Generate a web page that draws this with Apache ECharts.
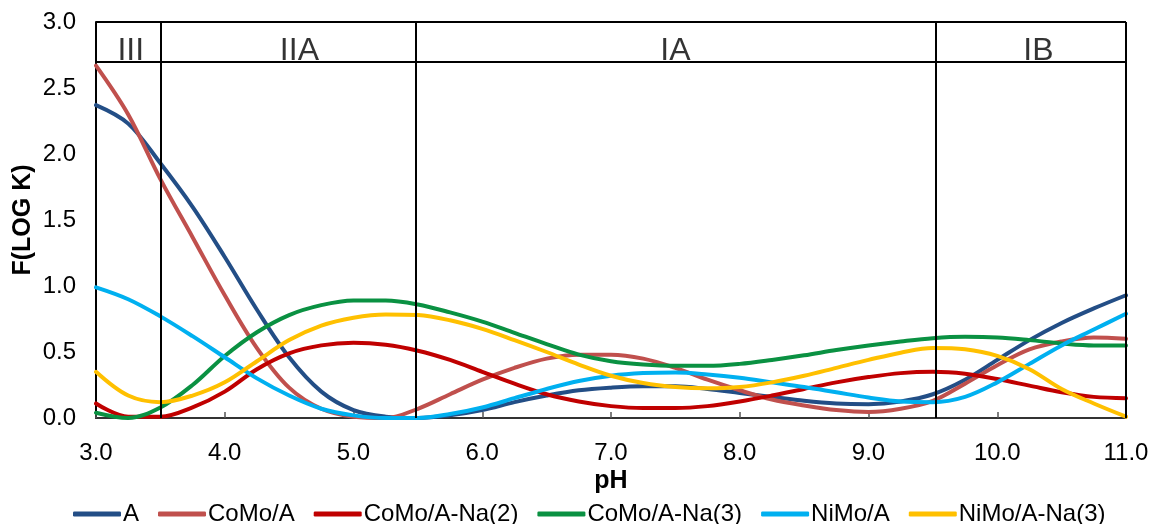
<!DOCTYPE html>
<html>
<head>
<meta charset="utf-8">
<script src="https://cdn.jsdelivr.net/npm/echarts@6/dist/echarts.min.js"></script>
<style>
html,body{margin:0;padding:0;background:#fff;}
#chart{width:1155px;height:524px;}
</style>
</head>
<body>
<div id="chart"></div>
<script>
// ---- data ----
var phValues = [3.0,3.25,3.5,3.75,4.0,4.25,4.5,4.75,5.0,5.25,5.5,5.75,6.0,6.25,6.5,6.75,7.0,7.25,7.5,7.75,8.0,8.25,8.5,8.75,9.0,9.25,9.5,9.75,10.0,10.25,10.5,10.75,11.0];

var seriesNames = ['A','CoMo/A','CoMo/A-Na(2)','CoMo/A-Na(3)','NiMo/A','NiMo/A-Na(3)'];

var valuesA =        [2.37,2.23,1.93,1.60,1.22,0.82,0.46,0.20,0.06,0.01,0.00,0.02,0.06,0.12,0.17,0.21,0.23,0.24,0.24,0.22,0.19,0.16,0.13,0.11,0.105,0.125,0.18,0.29,0.44,0.59,0.72,0.83,0.93];
var valuesCoMoA =    [2.67,2.30,1.81,1.37,0.93,0.53,0.23,0.07,0.01,0.00,0.07,0.18,0.29,0.38,0.45,0.48,0.48,0.45,0.38,0.29,0.21,0.14,0.095,0.06,0.045,0.07,0.13,0.26,0.40,0.52,0.58,0.61,0.60];
var valuesCoMoNa2 =  [0.11,0.01,0.01,0.08,0.20,0.37,0.49,0.55,0.57,0.555,0.51,0.44,0.35,0.26,0.18,0.125,0.09,0.075,0.075,0.09,0.125,0.17,0.22,0.27,0.31,0.34,0.35,0.335,0.295,0.245,0.195,0.16,0.15];
var valuesCoMoNa3 =  [0.04,0.00,0.08,0.25,0.47,0.65,0.78,0.855,0.89,0.89,0.86,0.80,0.73,0.645,0.56,0.48,0.43,0.405,0.395,0.395,0.41,0.44,0.475,0.515,0.55,0.58,0.605,0.615,0.61,0.59,0.565,0.55,0.55];
var valuesNiMoA =    [0.99,0.90,0.77,0.62,0.46,0.30,0.17,0.07,0.02,0.00,0.00,0.03,0.08,0.15,0.22,0.28,0.32,0.34,0.345,0.33,0.305,0.27,0.235,0.195,0.155,0.125,0.12,0.16,0.27,0.41,0.55,0.67,0.79];
var valuesNiMoNa3 =  [0.35,0.17,0.12,0.17,0.27,0.43,0.59,0.70,0.76,0.785,0.78,0.74,0.675,0.59,0.50,0.405,0.32,0.265,0.235,0.225,0.235,0.27,0.32,0.38,0.44,0.495,0.53,0.52,0.47,0.37,0.22,0.11,0.01];

var seriesColors = ['#234E86','#C0504D','#C00000','#0A9142','#00B0F0','#FFC000'];

var regionLabels = ['III','IIA','IA','IB'];
var regionLabelX = [3.27,4.58,7.5,10.32];
var regionBoundaries = [3.5,5.48,9.52,11.0];
var bandBottom = 2.7;
var yMin = 0, yMax = 3.0, yStep = 0.5;
var xMin = 3, xMax = 11, xStep = 1;

// ---- build chart ----
var allValues = [valuesA,valuesCoMoA,valuesCoMoNa2,valuesCoMoNa3,valuesNiMoA,valuesNiMoNa3];
var FONT = 'Liberation Sans, Arial, sans-serif';

var series = allValues.map(function (vals, i) {
  return {
    name: seriesNames[i],
    type: 'line',
    smooth: 0.35,
    showSymbol: false,
    symbol: 'none',
    lineStyle: { width: 4, color: seriesColors[i], cap: 'round' },
    itemStyle: { color: seriesColors[i] },
    data: phValues.map(function (x, j) { return [x, vals[j]]; }),
    z: 2
  };
});

var frameLines = [];
regionBoundaries.forEach(function (x) {
  frameLines.push([{ coord: [x, yMin] }, { coord: [x, yMax] }]);
});
frameLines.push([{ coord: [xMin, bandBottom] }, { coord: [xMax, bandBottom] }]);
frameLines.push([{ coord: [xMin, yMax] }, { coord: [xMax, yMax] }]);

series.push({
  name: 'frame',
  type: 'scatter',
  clip: false,
  silent: true,
  symbolSize: 0,
  data: regionLabels.map(function (t, i) { return { name: t, value: [regionLabelX[i], bandBottom] }; }),
  label: {
    show: true,
    position: 'top',
    distance: -6,
    formatter: function (p) { return p.name; },
    color: '#000',
    fontFamily: FONT,
    fontSize: 32
  },
  markLine: {
    silent: true,
    symbol: ['none','none'],
    label: { show: false },
    lineStyle: { color: '#000', width: 2, type: 'solid' },
    emphasis: { disabled: true },
    data: frameLines
  },
  z: 5
});

var chart = echarts.init(document.getElementById('chart'), null, { renderer: 'canvas' });
chart.setOption({
  animation: false,
  backgroundColor: '#fff',
  grid: { left: 96, right: 29, top: 22, bottom: 106, containLabel: false, outerBoundsMode: 'none' },
  legend: {
    data: seriesNames,
    left: 68,
    top: 497,
    icon: 'roundRect',
    itemWidth: 48,
    itemHeight: 5,
    itemGap: 19,
    textStyle: { fontFamily: FONT, fontSize: 24, color: '#000', padding: [0,0,0,-3] }
  },
  xAxis: {
    type: 'value',
    min: xMin, max: xMax, interval: xStep,
    name: 'pH',
    nameLocation: 'middle',
    nameGap: 51,
    nameMoveOverlap: false,
    nameTextStyle: { fontFamily: FONT, fontSize: 25, fontWeight: 'bold', color: '#000' },
    axisLine: { show: true, lineStyle: { color: '#333', width: 2 } },
    axisTick: { show: true, inside: true, length: 6, lineStyle: { color: '#555', width: 1.5 } },
    axisLabel: { margin: 23, fontFamily: FONT, fontSize: 24, color: '#000', formatter: function (v) { return v.toFixed(1); } },
    splitLine: { show: false }
  },
  yAxis: {
    type: 'value',
    min: yMin, max: yMax, interval: yStep,
    name: 'F(LOG K)',
    nameLocation: 'middle',
    nameGap: 60,
    nameMoveOverlap: false,
    nameTextStyle: { fontFamily: FONT, fontSize: 25, fontWeight: 'bold', color: '#000' },
    axisLine: { show: true, lineStyle: { color: '#000', width: 2 } },
    axisTick: { show: false },
    axisLabel: { margin: 20, fontFamily: FONT, fontSize: 24, color: '#000', formatter: function (v) { return v.toFixed(1); } },
    splitLine: { show: false }
  },
  series: series
});
</script>
</body>
</html>
